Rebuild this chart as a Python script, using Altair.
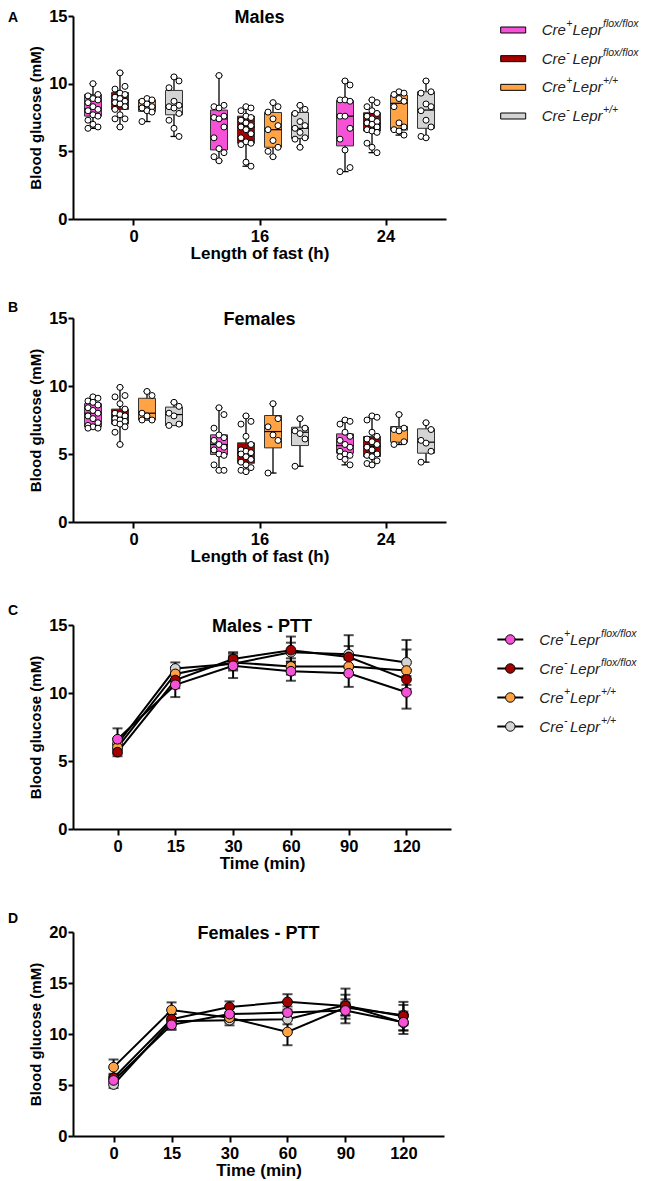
import json
import altair as alt
import pandas as pd

# ---------------- shared categories ----------------
GENOS = ["Cre+Lepr flox/flox", "Cre-Lepr flox/flox", "Cre+Lepr +/+", "Cre-Lepr +/+"]
CRE_SUP = ["+", "-", "+", "-"]
LEPR_SUP = ["flox/flox", "flox/flox", "+/+", "+/+"]
COLORS = ["#F552D8", "#A30000", "#FFA345", "#D4D4D4"]
FASTS = [0, 16, 24]
FAST_LABELS = ["0", "16", "24"]
TIMES = [0, 15, 30, 60, 90, 120]

# ---------------- Panel A: males, blood glucose per animal ----------------
M0_PF = [10.0, 9.2, 9.1, 8.9, 8.8, 8.6, 8.3, 8.1, 8.0, 7.7, 7.6, 7.3, 7.0, 6.8, 6.7]
M0_NF = [10.8, 9.8, 9.6, 9.3, 9.2, 9.0, 8.9, 8.7, 8.6, 8.5, 8.3, 8.1, 7.7, 7.4, 7.4, 6.8]
M0_PW = [8.9, 8.8, 8.7, 8.5, 8.3, 8.2, 8.0, 7.9, 7.2]
M0_NW = [10.5, 10.2, 9.7, 8.7, 8.4, 8.3, 8.2, 7.8, 7.3, 6.7, 6.1]
M16_PF = [10.6, 8.4, 8.3, 8.2, 7.6, 7.5, 7.4, 6.8, 6.0, 5.2, 4.9, 4.6, 4.3]
M16_NF = [8.3, 8.2, 8.0, 7.6, 7.5, 7.3, 7.1, 6.9, 6.8, 6.6, 6.3, 6.0, 5.7, 5.6, 5.5, 4.2, 3.9]
M16_PW = [8.6, 8.3, 7.9, 7.4, 6.9, 6.6, 5.8, 5.3, 5.0, 4.6]
M16_NW = [8.4, 8.1, 7.8, 7.2, 6.9, 6.7, 6.4, 6.0, 5.9, 5.3]
M24_PF = [10.2, 9.9, 8.8, 8.8, 8.7, 7.6, 7.6, 6.7, 5.9, 5.1, 3.8, 3.5]
M24_NF = [8.8, 8.6, 8.3, 8.0, 7.8, 7.6, 7.4, 7.2, 7.1, 7.0, 6.8, 6.6, 6.5, 6.4, 5.6, 5.3, 4.9]
M24_PW = [9.4, 9.3, 9.2, 8.9, 8.7, 8.3, 7.1, 6.8, 6.6, 6.5, 6.2]
M24_NW = [10.2, 9.4, 9.3, 8.5, 8.3, 8.0, 7.3, 6.8, 6.1, 6.0]
# box quartiles (order: fast 0,16,24 x genotype)
M_Q1 = [7.6, 8.1, 7.95, 7.7, 5.1, 5.6, 5.3, 5.95, 5.4, 6.5, 6.57, 6.7]
M_MED = [8.15, 8.7, 8.3, 8.3, 7.4, 6.8, 6.6, 6.7, 7.6, 7.05, 8.55, 8.05]
M_Q3 = [9.2, 9.35, 8.8, 9.5, 8.05, 7.6, 7.87, 7.87, 8.75, 7.85, 9.15, 9.4]

# ---------------- Panel B: females ----------------
F0_PF = [9.2, 9.1, 8.9, 8.8, 8.6, 8.4, 8.2, 8.0, 7.8, 7.6, 7.3, 7.1, 7.0, 6.9, 6.9]
F0_NF = [9.9, 9.3, 9.2, 8.7, 8.3, 8.0, 7.9, 7.8, 7.6, 7.5, 7.4, 7.3, 7.2, 7.0, 6.6, 5.7]
F0_PW = [9.6, 9.3, 8.0, 7.8, 7.5, 7.5]
F0_NW = [8.8, 8.5, 8.0, 7.8, 7.2, 7.1]
F16_PF = [8.4, 7.9, 6.9, 6.4, 6.2, 6.0, 5.7, 5.5, 5.3, 5.0, 4.9, 4.2, 3.8, 3.8]
F16_NF = [7.8, 7.4, 7.2, 6.3, 5.7, 5.3, 5.2, 5.1, 5.0, 4.8, 4.6, 4.4, 4.2, 4.0, 3.8, 3.7]
F16_PW = [8.7, 7.6, 7.0, 6.4, 6.0, 3.6]
F16_NW = [7.6, 6.9, 6.7, 6.5, 6.1, 4.1]
F24_PF = [7.5, 7.4, 7.2, 6.6, 6.3, 6.0, 5.7, 5.5, 5.2, 5.0, 4.9, 4.8, 4.6, 4.2]
F24_NF = [7.8, 7.7, 7.5, 6.6, 6.3, 6.1, 5.9, 5.7, 5.5, 5.3, 5.0, 4.9, 4.8, 4.5, 4.3, 4.2]
F24_PW = [7.9, 6.9, 6.8, 6.7, 5.9, 5.7]
F24_NW = [7.3, 6.8, 6.0, 5.8, 5.2, 4.4]
F_Q1 = [7.0, 7.2, 7.5, 7.1, 4.96, 4.32, 5.45, 5.62, 5.06, 4.81, 5.87, 5.06]
F_MED = [8.0, 7.8, 8.0, 7.9, 5.7, 5.1, 6.65, 6.6, 5.62, 5.55, 6.78, 5.87]
F_Q3 = [8.7, 8.3, 9.1, 8.45, 6.41, 5.82, 7.83, 6.97, 6.48, 6.29, 7.02, 6.85]

# ---------------- Panel C: males PTT (mean, SEM) ----------------
C_PF = [6.6, 10.6, 12.0, 11.6, 11.45, 10.05]
C_NF = [5.65, 10.95, 12.5, 13.15, 12.65, 11.0]
C_PW = [6.0, 11.4, 12.25, 11.95, 11.95, 11.65]
C_NW = [6.25, 11.8, 12.15, 13.0, 12.85, 12.25]
C_PF_SEM = [0.8, 0.9, 0.9, 0.7, 1.0, 1.2]
C_NF_SEM = [0.3, 0.6, 0.5, 1.0, 0.8, 0.7]
C_PW_SEM = [0.5, 0.5, 0.5, 0.6, 0.6, 1.55]
C_NW_SEM = [0.4, 0.45, 0.5, 0.7, 1.4, 1.65]

# ---------------- Panel D: females PTT (mean, SEM) ----------------
D_PF = [5.45, 10.9, 11.95, 12.1, 12.3, 11.15]
D_NF = [5.7, 11.45, 12.65, 13.15, 12.75, 11.75]
D_PW = [6.75, 12.35, 11.6, 10.2, 12.6, 11.85]
D_NW = [5.05, 11.25, 11.35, 11.45, 12.85, 11.1]
D_PF_SEM = [0.4, 0.5, 0.6, 0.6, 0.8, 0.8]
D_NF_SEM = [0.4, 0.5, 0.55, 0.75, 1.7, 1.4]
D_PW_SEM = [0.75, 0.75, 0.5, 1.3, 0.8, 1.0]
D_NW_SEM = [0.35, 0.7, 0.5, 0.5, 1.0, 1.1]

FONT = "Liberation Sans"
CSCALE = alt.Scale(domain=GENOS, range=COLORS)
YTITLE = "Blood glucose (mM)"

SUB = 27 / 126.0   # spacing of genotype boxes within a fast group (in group units)
HB = 8.5 / 126.0   # half box width
JIT = 5 / 126.0    # horizontal scatter of dots


def text_layer(txt, x, y, size, weight="bold", align="left", baseline="top"):
    return alt.Chart(pd.DataFrame({"t": [txt]})).mark_text(
        font=FONT, fontSize=size, fontWeight=weight, align=align,
        baseline=baseline, color="black"
    ).encode(x=alt.value(x), y=alt.value(y), text="t:N")


def legend_texts(L, ly, x_cre, x_s1, x_lepr, x_s2):
    common = dict(font=FONT, fontStyle="italic", align="left", baseline="middle", color="#222")
    return [
        L.mark_text(fontSize=15, **common).encode(x=alt.value(x_cre), y=ly, text=alt.value("Cre")),
        L.mark_text(fontSize=10.5, dy=-6, **common).encode(x=alt.value(x_s1), y=ly, text="cs:N"),
        L.mark_text(fontSize=15, **common).encode(x=alt.value(x_lepr), y=ly, text=alt.value("Lepr")),
        L.mark_text(fontSize=10.5, dy=-6, **common).encode(x=alt.value(x_s2), y=ly, text="ls:N"),
    ]


def box_panel(groups, q1, med, q3, title, letter, lx, lyy, width, height, legend_range=None):
    rows = []
    for fi, f in enumerate(FASTS):
        for gi, g in enumerate(GENOS):
            for v in groups[fi][gi]:
                rows.append({"fast": f, "geno": g, "value": v})
    pts = pd.DataFrame(rows)
    stats = pd.DataFrame({
        "fast": [f for f in FASTS for _ in GENOS],
        "geno": [g for _ in FASTS for g in GENOS],
        "q1": q1, "med": med, "q3": q3,
    })
    pos = (f"indexof({json.dumps(FASTS)}, datum.fast) + "
           f"(indexof({json.dumps(GENOS)}, datum.geno) - 1.5) * {SUB}")
    xs = alt.Scale(domain=[-0.48, 2.48], nice=False, zero=False)
    ys = alt.Scale(domain=[0, 15], nice=False)
    lab = "datum.value == 0 ? '0' : (datum.value == 1 ? '16' : '24')"
    xax = alt.Axis(values=[0, 1, 2], labelExpr=lab, title="Length of fast (h)")
    yax = alt.Axis(values=[0, 5, 10, 15], title=YTITLE)

    P = alt.Chart(pts).transform_calculate(xc=pos)
    S = alt.Chart(stats).transform_calculate(xc=pos).transform_calculate(
        xl=f"datum.xc - {HB}", xr=f"datum.xc + {HB}")

    whisk = P.mark_rule(color="black", strokeWidth=1.3).encode(
        x=alt.X("xc:Q", scale=xs, axis=xax),
        y=alt.Y("min(value):Q", scale=ys, axis=yax),
        y2=alt.Y2("max(value)"))
    capmax = P.mark_tick(orient="horizontal", size=7, thickness=1.3, color="black").encode(
        x=alt.X("xc:Q", scale=xs, axis=xax),
        y=alt.Y("max(value):Q", scale=ys, axis=yax))
    capmin = P.mark_tick(orient="horizontal", size=7, thickness=1.3, color="black").encode(
        x=alt.X("xc:Q", scale=xs, axis=xax),
        y=alt.Y("min(value):Q", scale=ys, axis=yax))
    box = S.mark_bar(stroke="#333", strokeWidth=1, opacity=1).encode(
        x=alt.X("xl:Q", scale=xs, axis=xax), x2="xr:Q",
        y=alt.Y("q1:Q", scale=ys, axis=yax), y2="q3:Q",
        color=alt.Color("geno:N", scale=CSCALE, legend=None))
    medl = S.mark_rule(color="black", strokeWidth=1.2).encode(
        x=alt.X("xl:Q", scale=xs, axis=xax), x2="xr:Q",
        y=alt.Y("med:Q", scale=ys, axis=yax))
    dots = P.transform_window(
        rk="row_number()", groupby=["fast", "geno"],
        sort=[alt.SortField("value", order="descending")]
    ).transform_calculate(
        xj=f"datum.xc + ((datum.rk % 3) - 1) * {JIT}"
    ).mark_point(filled=True, fill="white", stroke="black", strokeWidth=1, size=36, opacity=1).encode(
        x=alt.X("xj:Q", scale=xs, axis=xax),
        y=alt.Y("value:Q", scale=ys, axis=yax))

    main = alt.layer(whisk, capmin, capmax, box, medl, dots)
    layers = [main,
              text_layer(title, width / 2, 2, 18, align="center", baseline="middle"),
              text_layer(letter, lx, lyy, 14)]
    if legend_range is not None:
        L = alt.Chart(pd.DataFrame({"geno": GENOS, "cs": CRE_SUP, "ls": LEPR_SUP}))
        ly = alt.Y("geno:N", axis=None,
                   scale=alt.Scale(type="point", domain=GENOS, range=legend_range, padding=0))
        sw = L.mark_tick(orient="horizontal", size=25, thickness=6, stroke="black",
                         strokeWidth=1, opacity=1).encode(
            x=alt.value(440.2), y=ly, color=alt.Color("geno:N", scale=CSCALE, legend=None))
        leg = alt.layer(sw, *legend_texts(L, ly, 468.7, 493.3, 499.5, 530))
        layers.insert(1, leg)
        return alt.layer(*layers).resolve_scale(y="independent").properties(width=width, height=height)
    return alt.layer(*layers).properties(width=width, height=height)


def line_panel(means, sems, title, ymax, yvals, letter, lx, lyy, width, height, pad, legend_range=None):
    rows = []
    for gi in [3, 2, 1, 0]:
        for ti, t in enumerate(TIMES):
            rows.append({"time": t, "geno": GENOS[gi], "mean": means[gi][ti], "sem": sems[gi][ti]})
    df = pd.DataFrame(rows)
    base = alt.Chart(df).transform_calculate(lo="datum.mean - datum.sem", hi="datum.mean + datum.sem")
    xs = alt.Scale(type="point", padding=pad)
    xax = alt.Axis(labelAngle=0, title="Time (min)")
    ys = alt.Scale(domain=[0, ymax], nice=False)
    yax = alt.Axis(values=yvals, title=YTITLE)
    X = alt.X("time:O", sort=TIMES, scale=xs, axis=xax)

    err = base.mark_rule(color="black", strokeWidth=2).encode(
        x=X, y=alt.Y("lo:Q", scale=ys, axis=yax), y2="hi:Q")
    caph = base.mark_tick(orient="horizontal", size=10, thickness=2, color="black").encode(
        x=X, y=alt.Y("hi:Q", scale=ys, axis=yax))
    capl = base.mark_tick(orient="horizontal", size=10, thickness=2, color="black").encode(
        x=X, y=alt.Y("lo:Q", scale=ys, axis=yax))
    line = base.mark_line(color="black", strokeWidth=2).encode(
        x=X, y=alt.Y("mean:Q", scale=ys, axis=yax), detail="geno:N")
    pts = base.mark_point(filled=True, size=95, stroke="black", strokeWidth=1, opacity=1).encode(
        x=X, y=alt.Y("mean:Q", scale=ys, axis=yax),
        color=alt.Color("geno:N", scale=CSCALE, legend=None))
    main = alt.layer(err, caph, capl, line, pts)
    layers = [main,
              text_layer(title, width / 2, 2, 18, align="center", baseline="middle"),
              text_layer(letter, lx, lyy, 14)]
    if legend_range is not None:
        L = alt.Chart(pd.DataFrame({"geno": GENOS, "cs": CRE_SUP, "ls": LEPR_SUP}))
        ly = alt.Y("geno:N", axis=None,
                   scale=alt.Scale(type="point", domain=GENOS, range=legend_range, padding=0))
        seg = L.mark_rule(color="black", strokeWidth=2).encode(
            x=alt.value(424.3), x2=alt.value(450.3), y=ly)
        dot = L.mark_point(filled=True, size=90, stroke="black", strokeWidth=1, opacity=1).encode(
            x=alt.value(437.3), y=ly, color=alt.Color("geno:N", scale=CSCALE, legend=None))
        leg = alt.layer(seg, dot, *legend_texts(L, ly, 466.3, 491, 497, 528))
        layers.insert(1, leg)
        return alt.layer(*layers).resolve_scale(y="independent").properties(width=width, height=height)
    return alt.layer(*layers).properties(width=width, height=height)


pA = box_panel([[M0_PF, M0_NF, M0_PW, M0_NW], [M16_PF, M16_NF, M16_PW, M16_NW],
                [M24_PF, M24_NF, M24_PW, M24_NW]], M_Q1, M_MED, M_Q3,
               "Males", "A", -65, -5, 373, 203, legend_range=[14, 100])
pB = box_panel([[F0_PF, F0_NF, F0_PW, F0_NW], [F16_PF, F16_NF, F16_PW, F16_NW],
                [F24_PF, F24_NF, F24_PW, F24_NW]], F_Q1, F_MED, F_Q3,
               "Females", "B", -65, -16.7, 373, 204)
pC = line_panel([C_PF, C_NF, C_PW, C_NW], [C_PF_SEM, C_NF_SEM, C_PW_SEM, C_NW_SEM],
                "Males - PTT", 15, [0, 5, 10, 15], "C", -65, -20.6, 378, 204, 0.77,
                legend_range=[14.5, 101.5])
pD = line_panel([D_PF, D_NF, D_PW, D_NW], [D_PF_SEM, D_NF_SEM, D_PW_SEM, D_NW_SEM],
                "Females - PTT", 20, [0, 5, 10, 15, 20], "D", -65, -20.4, 371, 204, 0.7)

chart = alt.vconcat(pA, pB, pC, pD, spacing=39).properties(padding=0).configure(
    font=FONT
).configure_view(stroke=None).configure_axis(
    domainColor="black", domainWidth=2, tickColor="black", tickWidth=2, tickSize=6,
    labelColor="black", labelFont=FONT, labelFontSize=16.5, labelFontWeight="bold", labelPadding=3,
    titleColor="black", titleFont=FONT, titleFontSize=17, titleFontWeight="bold", titlePadding=1,
    grid=False
).configure_axisY(tickSize=5, labelPadding=1, titlePadding=5, titleFontSize=15)

chart.save("out.html", embed_options={"renderer": "svg", "actions": False})
